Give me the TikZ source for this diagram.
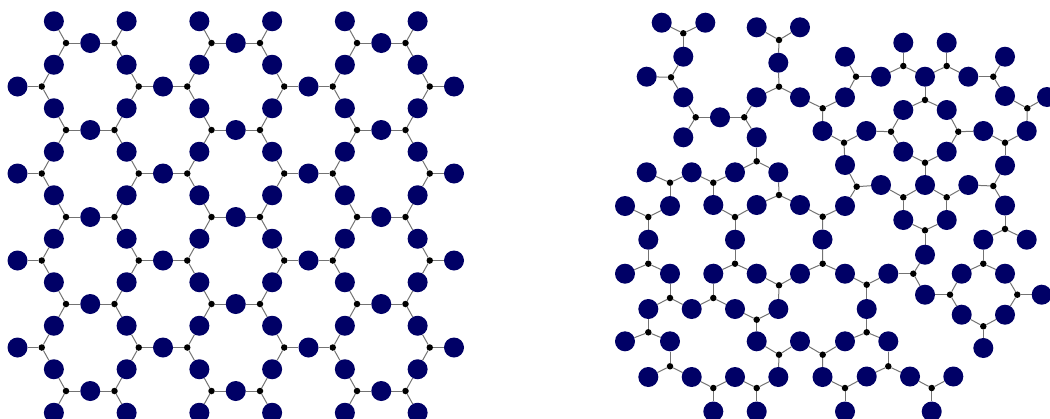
\documentclass[tikz,border=0pt]{standalone}
\pgfdeclarelayer{bonds}
\pgfsetlayers{bonds,main}
\definecolor{navy}{RGB}{0,0,102}
\tikzset{
  atom/.style={circle,fill=navy,inner sep=0pt,minimum size=20pt},
  si/.style={circle,fill=black,inner sep=0pt,minimum size=6.5pt},
  bond/.style={draw=black!55,line width=1pt}
}
\begin{document}
\begin{tikzpicture}[x=1pt,y=-1pt]
\useasboundingbox (0,0) rectangle (1050,418);
% ---------- left: regular lattice ----------
\foreach \k/\xe/\xo in {1/66/41.75,2/114.5/138.75,3/211.5/187.25,4/260/284.25,5/357/332.75,6/405.5/429.75}{
  \foreach \r in {0,2,4,6,8}{\node[si] (L\r-\k) at (\xe,{43+43.5*\r}) {};}
  \foreach \r in {1,3,5,7}{\node[si] (L\r-\k) at (\xo,{43+43.5*\r}) {};}
  \foreach \m in {-1,...,8}{\node[atom] (LS\m-\k) at ({(\xe+\xo)/2},{43+43.5*(\m+0.5)}) {};}
  \begin{pgfonlayer}{bonds}
  \foreach \m in {0,...,8}{
    \pgfmathtruncatemacro\mp{\m-1}
    \draw[bond] (L\m-\k) -- (LS\m-\k);
    \draw[bond] (L\m-\k) -- (LS\mp-\k);
  }
  \end{pgfonlayer}
}
\foreach \r in {0,2,4,6,8}{
  \foreach \j/\x in {1/90.25,3/235.75,5/381.25}{
    \pgfmathtruncatemacro\jn{\j+1}
    \node[atom] (LH\r-\j) at (\x,{43+43.5*\r}) {};
    \begin{pgfonlayer}{bonds}
    \draw[bond] (L\r-\j) -- (LH\r-\j);
    \draw[bond] (LH\r-\j) -- (L\r-\jn);
    \end{pgfonlayer}
  }
}
\foreach \r in {1,3,5,7}{
  \foreach \j/\x in {2/163,4/308.5}{
    \pgfmathtruncatemacro\jn{\j+1}
    \node[atom] (LH\r-\j) at (\x,{43+43.5*\r}) {};
    \begin{pgfonlayer}{bonds}
    \draw[bond] (L\r-\j) -- (LH\r-\j);
    \draw[bond] (LH\r-\j) -- (L\r-\jn);
    \end{pgfonlayer}
  }
  \node[atom] (LH\r-0) at (17.5,{43+43.5*\r}) {};
  \node[atom] (LH\r-6) at (454,{43+43.5*\r}) {};
  \begin{pgfonlayer}{bonds}
  \draw[bond] (L\r-1) -- (LH\r-0);
  \draw[bond] (L\r-6) -- (LH\r-6);
  \end{pgfonlayer}
}
% ---------- right: disordered network ----------
\foreach \n/\x/\y in {
 d1/683.3/33.3, d2/671/77.3, d3/695.7/117.3, d4/744.3/117.3, d5/779/86.7, d6/779/40,
 d7/822.7/108.3, d8/756.7/161.3, d9/670/182.7, d10/713.3/182.7, d11/779/195,
 d12/856/76.7, d13/903.3/66, d14/946.7/66, d15/993.3/76.7, d16/925/100,
 d17/1027.3/108.3, d18/891/131.7, d19/958.3/131.7, d20/844/142.7, d21/1005/142.7,
 d22/925/162.7, d23/856.7/186.7, d24/903.3/197.3, d25/946.7/197.3, d26/993.3/186,
 d27/648.3/217, d28/735/217, d29/822.7/216.7, d30/648.3/263.7, d31/735/263.7,
 d32/822.7/263.7, d33/779/285.3, d34/670/298, d35/713.3/298, d36/756.7/319.7,
 d37/648.3/332.3, d38/779/354.7, d39/822.7/354.7, d40/670/366.3, d41/713.3/388,
 d42/756.7/388, d43/925/230.3, d44/1005/229, d45/866.7/284.7, d46/913.3/273.7,
 d47/983.3/263.7, d48/950/294.7, d49/1017.3/294.7, d50/983.3/326.3, d51/866.7/332.3,
 d52/888.3/366.3, d53/845/388, d54/931.7/388}
 {\node[si] (\n) at (\x,\y) {};}
\foreach \n/\x/\y in {
 b1/661.7/22.7, b2/705.3/22.7, b3/683.3/56.7, b4/646.7/76.7, b5/683.3/97.3,
 b6/720/117.3, b7/683.3/137.3, b8/756.7/27.3, b9/800/27.3, b10/778.3/62.7,
 b11/756.7/97.3, b12/800/97.3, b13/822.5/131, b14/756.7/137.3, b15/646.7/172.3,
 b16/691.7/172.3, b17/735/172.3, b18/778.3/172.3, b19/625/206, b20/670/206,
 b21/713.3/205, b22/756.7/205, b23/800/205, b24/903.3/42.7, b25/946.7/42.7,
 b26/845/56.7, b27/1005/56.7, b28/881/76.7, b29/925/76.7, b30/968.3/76.7,
 b31/845/97.3, b32/1005/96, b33/1047/97, b34/903.3/110, b35/946.7/110,
 b36/866.3/131, b37/983.3/131, b38/1026.7/131, b39/903.3/151.7, b40/946.7/151.7,
 b41/845/165, b42/1005/165.5, b43/881/185, b44/925/185, b45/968.3/185,
 b46/845/206, b47/1005/205.5, b48/903.3/220, b49/946.7/220, b50/648.3/239.7,
 b51/735/239.7, b52/822.5/239.5, b53/625/273.7, b54/670/273.7, b55/713.3/273.7,
 b56/756.7/273.7, b57/800/273.7, b58/648.3/309, b59/691.7/309, b60/735/309,
 b61/778.3/309, b62/625/341.3, b63/670/341.3, b64/756.7/341.3, b65/800/341.3,
 b66/648.3/377, b67/691.7/377, b68/735/377, b69/778.3/377, b70/822.5/377,
 b71/713.3/411.5, b72/756.7/411.5, b73/983.3/239.7, b74/1026.7/239.7, b75/925/254.7,
 b76/845/273.7, b77/888.3/273.7, b78/961.7/273.7, b79/1005/273.7, b80/925/294.7,
 b81/1041.7/294.7, b82/866.7/309, b83/961.7/314.7, b84/1005/314.7, b85/845/341.3,
 b86/888.3/341.3, b87/983.3/348, b88/866.7/376.5, b89/910/376.5, b90/953.3/376.5,
 b91/845/411.5, b92/931.7/411.5}
 {\node[atom] (\n) at (\x,\y) {};}
\begin{pgfonlayer}{bonds}
\foreach \d/\l in {
 d1/{b1,b2,b3}, d2/{b3,b4,b5}, d3/{b5,b6,b7}, d4/{b6,b11,b14}, d5/{b10,b11,b12},
 d6/{b8,b9,b10}, d7/{b12,b31,b13}, d8/{b14,b17,b18}, d9/{b15,b16,b20},
 d10/{b16,b17,b21}, d11/{b18,b22,b23}, d12/{b26,b28,b31}, d13/{b24,b28,b29},
 d14/{b25,b29,b30}, d15/{b30,b27,b32}, d16/{b29,b34,b35}, d17/{b32,b33,b38},
 d18/{b34,b36,b39}, d19/{b35,b37,b40}, d20/{b13,b36,b41}, d21/{b37,b38,b42},
 d22/{b39,b40,b44}, d23/{b41,b43,b46}, d24/{b43,b44,b48}, d25/{b44,b45,b49},
 d26/{b45,b42,b47}, d27/{b19,b20,b50}, d28/{b21,b22,b51}, d29/{b23,b46,b52},
 d30/{b50,b53,b54}, d31/{b51,b55,b56}, d32/{b52,b57,b76}, d33/{b56,b57,b61},
 d34/{b54,b58,b59}, d35/{b55,b59,b60}, d36/{b60,b61,b64}, d37/{b58,b62,b63},
 d38/{b64,b65,b69}, d39/{b65,b70,b85}, d40/{b63,b66,b67}, d41/{b67,b68,b71},
 d42/{b68,b69,b72}, d43/{b48,b49,b75}, d44/{b47,b73,b74}, d45/{b76,b77,b82},
 d46/{b75,b77,b80}, d47/{b73,b78,b79}, d48/{b80,b78,b83}, d49/{b79,b81,b84},
 d50/{b83,b84,b87}, d51/{b82,b85,b86}, d52/{b86,b88,b89}, d53/{b70,b88,b91},
 d54/{b89,b90,b92}}
 {\foreach \b in \l {\draw[bond] (\d) -- (\b);}}
\end{pgfonlayer}
\end{tikzpicture}
\end{document}
